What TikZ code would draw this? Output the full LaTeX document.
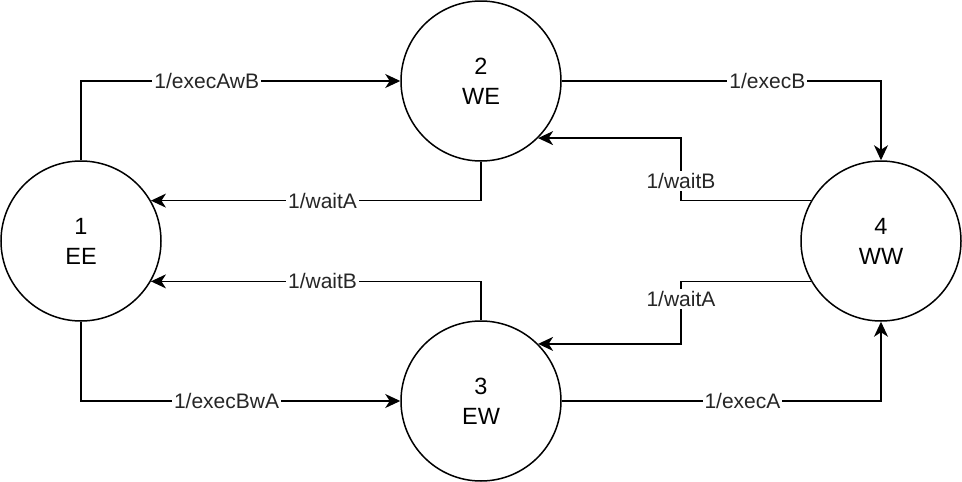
\documentclass[tikz,border=0pt]{standalone}
\usepackage{fontspec}
\setmainfont{Liberation Sans}
\usetikzlibrary{arrows.meta}
\tikzset{
    state-circle/.style = {draw, circle, minimum size=160pt, inner sep=0pt, line width=1.5pt, align=center, font=\fontsize{23.5}{30}\selectfont},
    edge-arrow/.style = {line width=1.5pt, -{Stealth[length=15pt,width=14pt,inset=4.5pt]}},
    edge-label/.style = {fill=white, inner sep=2pt, font=\fontsize{21}{25}\selectfont, text=black!85},
}

\begin{document}
\begin{tikzpicture}[x=1pt, y=-1pt]
\useasboundingbox (0,0) rectangle (962,482);
\node [state-circle] (ee) at (81,241) {1\\EE};
\node [state-circle] (we) at (481,81) {2\\WE};
\node [state-circle] (ew) at (481,401) {3\\EW};
\node [state-circle] (ww) at (881,241) {4\\WW};
\coordinate (midx) at (681,0);

\draw [edge-arrow] (ee.north) |- node[edge-label, pos=0.697] {1/execAwB} (we.west);
\draw [edge-arrow] (ee.south) |- node[edge-label, pos=0.728] {1/execBwA} (ew.west);
\draw [edge-arrow] (we.south) |- node[edge-label, pos=0.74] {1/waitA} (ee.30);
\draw [edge-arrow] (ew.north) |- node[edge-label, pos=0.74] {1/waitB} (ee.-30);
\draw [edge-arrow] (we.east) -| node[edge-label, pos=0.322] {1/execB} (ww.north);
\draw [edge-arrow] (ew.east) -| node[edge-label, pos=0.283] {1/execA} (ww.south);
\draw [edge-arrow] (ww.150) -- (ww.150 -| midx) |- node[edge-label, pos=0.156] {1/waitB} (we.-45);
\draw [edge-arrow] (ww.210) -- (ww.210 -| midx) |- node[edge-label, pos=0.14] {1/waitA} (ew.45);
\end{tikzpicture}
\end{document}
